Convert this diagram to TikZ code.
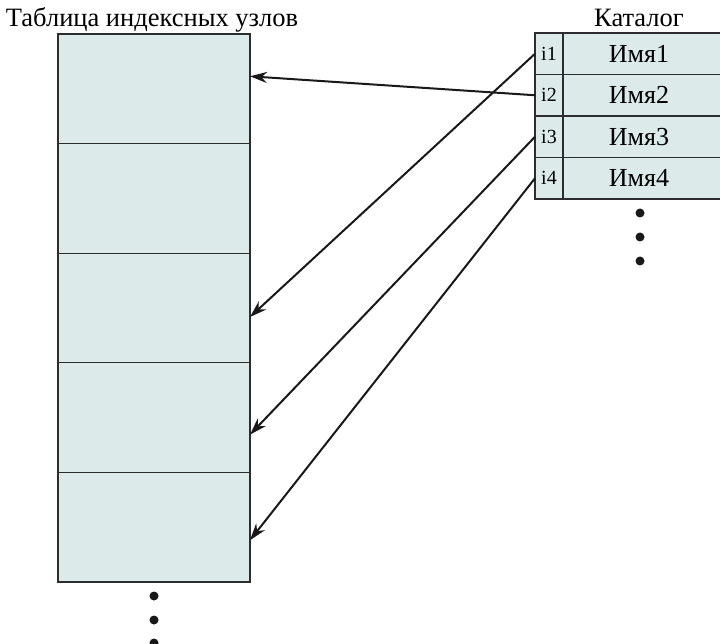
\documentclass[tikz,border=0pt]{standalone}
\usepackage{fontspec}
\setmainfont{Liberation Serif}
\usetikzlibrary{arrows.meta,calc}
\definecolor{cellfill}{RGB}{220,234,234}
\definecolor{edgecol}{RGB}{45,45,45}
\begin{document}
\begin{tikzpicture}[x=1pt,y=-1pt,
  cell/.style={fill=cellfill,inner sep=0pt,outer sep=0pt,anchor=north west},
  border/.style={draw=edgecol,line width=1.3pt},
  bigrow/.style={cell,minimum width=192pt,minimum height=109.6pt},
  idcell/.style={cell,minimum width=28pt,minimum height=41.5pt,font=\fontsize{20}{20}\selectfont},
  namecell/.style={cell,minimum width=170pt,minimum height=41.5pt,font=\fontsize{26}{26}\selectfont},
  lbl/.style={font=\fontsize{26.5}{26.5}\selectfont,inner sep=0pt},
  ptr/.style={draw=black!90,line width=2pt,-{Stealth[length=17pt,width=11pt]}},
  dot/.style={circle,fill=black!90,inner sep=0pt,minimum size=9pt}]
\useasboundingbox (0,0) rectangle (720,644);
% title labels
\node[lbl] (ttab) at (152,20) {Таблица индексных узлов};
\node[lbl] (tcat) at (639,18) {Каталог};
% inode table
\node[bigrow] (r1) at (58,34) {};
\node[bigrow] (r2) at (58,143.6) {};
\node[bigrow] (r3) at (58,253.2) {};
\node[bigrow] (r4) at (58,362.8) {};
\node[bigrow] (r5) at (58,472.4) {};
% catalog
\node[idcell] (i1) at (535,33) {i1};
\node[idcell] (i2) at (535,74.5) {i2};
\node[idcell] (i3) at (535,116) {i3};
\node[idcell] (i4) at (535,157.5) {i4};
\node[namecell] (n1) at (563,33) {\hspace*{-18pt}Имя1};
\node[namecell] (n2) at (563,74.5) {\hspace*{-18pt}Имя2};
\node[namecell] (n3) at (563,116) {\hspace*{-18pt}Имя3};
\node[namecell] (n4) at (563,157.5) {\hspace*{-18pt}Имя4};
% borders on top of all fills
\foreach \c in {r1,r2,r3,r4,r5,i1,i2,i3,i4,n1,n2,n3,n4}
  \draw[border] (\c.north west) rectangle (\c.south east);
% dots
\node[dot] (cd1) at (640,213) {};
\node[dot] (cd2) at (640,237) {};
\node[dot] (cd3) at (640,261) {};
\node[dot] (td1) at (154,596) {};
\node[dot] (td2) at (154,620) {};
\node[dot] (td3) at (154,643) {};
% pointers
\draw[ptr] (i1.west) -- ($(r3.east)+(0,9)$);
\draw[ptr] (i2.west) -- ($(r1.east)+(0,-12.5)$);
\draw[ptr] (i3.west) -- ($(r4.east)+(0,17)$);
\draw[ptr] (i4.west) -- ($(r5.east)+(0,13)$);
\end{tikzpicture}
\end{document}
